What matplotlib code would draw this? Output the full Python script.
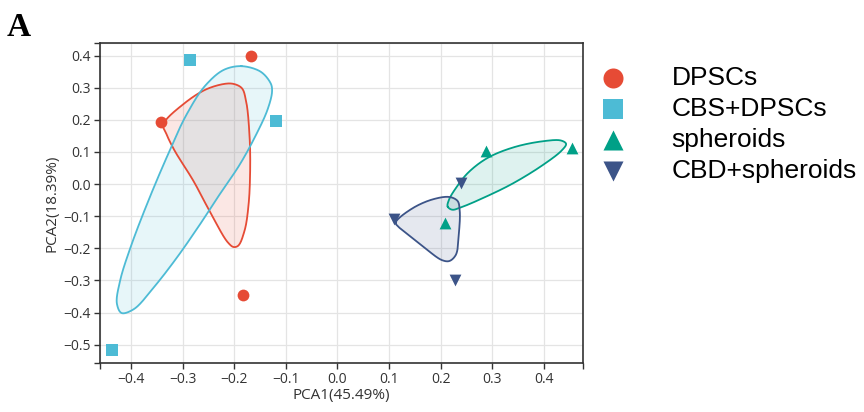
import numpy as np
import matplotlib.pyplot as plt

groups = ['DPSCs', 'CBS+DPSCs', 'spheroids', 'CBD+spheroids']
colors = ['#E64B35', '#4DBBD5', '#00A087', '#3C5488']
markers = ['o', 's', '^', 'v']

# sample scores
pc1 = [[-0.342, -0.168, -0.183],
       [-0.285, -0.118, -0.437],
       [0.288, 0.454, 0.209],
       [0.110, 0.239, 0.228]]
pc2 = [[0.194, 0.400, -0.345],
       [0.386, 0.197, -0.518],
       [0.103, 0.112, -0.122],
       [-0.110, 0.004, -0.300]]

# outline points
red_x = [-0.337, -0.299, -0.254, -0.218, -0.202, -0.186, -0.177, -0.170, -0.169, -0.172,
         -0.180, -0.193, -0.201, -0.212, -0.241, -0.279, -0.315, -0.331]
red_y = [0.186, 0.248, 0.295, 0.312, 0.312, 0.300, 0.259, 0.144, 0.041, -0.063,
         -0.146, -0.193, -0.196, -0.182, -0.104, 0.010, 0.103, 0.155]
blue_x = [-0.186, -0.151, -0.130, -0.1265, -0.135, -0.157, -0.189, -0.228, -0.266, -0.311,
          -0.356, -0.395, -0.417, -0.427, -0.421, -0.401, -0.369, -0.331, -0.292, -0.254, -0.218]
blue_y = [0.367, 0.352, 0.316, 0.290, 0.233, 0.155, 0.061, -0.032, -0.125, -0.229,
          -0.322, -0.390, -0.402, -0.374, -0.301, -0.198, -0.063, 0.082, 0.217, 0.310, 0.357]
green_x = [0.214, 0.216, 0.229, 0.255, 0.294, 0.345, 0.397, 0.432, 0.443, 0.435,
           0.397, 0.339, 0.287, 0.242, 0.223]
green_y = [-0.071, -0.050, -0.014, 0.038, 0.084, 0.116, 0.133, 0.136, 0.126, 0.105,
           0.058, 0.001, -0.040, -0.071, -0.080]
navy_x = [0.113, 0.145, 0.184, 0.216, 0.232, 0.237, 0.235, 0.229, 0.216, 0.203,
          0.171, 0.139, 0.119]
navy_y = [-0.120, -0.076, -0.048, -0.040, -0.051, -0.082, -0.160, -0.222, -0.240, -0.237,
          -0.201, -0.160, -0.134]

hulls = [(red_x, red_y), (blue_x, blue_y), (green_x, green_y), (navy_x, navy_y)]


def closed_curve(xs, ys, n=40):
    # centripetal Catmull-Rom spline, closed
    P = np.column_stack([xs, ys])
    m = len(P)
    pts = []
    for i in range(m):
        p0, p1, p2, p3 = P[i - 1], P[i], P[(i + 1) % m], P[(i + 2) % m]
        t0 = 0.0
        t1 = t0 + np.linalg.norm(p1 - p0) ** 0.5
        t2 = t1 + np.linalg.norm(p2 - p1) ** 0.5
        t3 = t2 + np.linalg.norm(p3 - p2) ** 0.5
        t = np.linspace(t1, t2, n, endpoint=False)[:, None]
        a1 = (t1 - t) / (t1 - t0) * p0 + (t - t0) / (t1 - t0) * p1
        a2 = (t2 - t) / (t2 - t1) * p1 + (t - t1) / (t2 - t1) * p2
        a3 = (t3 - t) / (t3 - t2) * p2 + (t - t2) / (t3 - t2) * p3
        b1 = (t2 - t) / (t2 - t0) * a1 + (t - t0) / (t2 - t0) * a2
        b2 = (t3 - t) / (t3 - t1) * a2 + (t - t1) / (t3 - t1) * a3
        pts.append((t2 - t) / (t2 - t1) * b1 + (t - t1) / (t2 - t1) * b2)
    c = np.vstack(pts)
    c = np.vstack([c, c[:1]])
    return c[:, 0], c[:, 1]


def fmt(v):
    return ('%.1f' % v).replace('-', '\u2212')


plt.rcParams['font.family'] = ['Open Sans', 'DejaVu Sans']

fig = plt.figure(figsize=(8.64, 4.12), dpi=100)
ax = fig.add_axes([0.1157, 0.1189, 0.5591, 0.7767])

xlim = (-0.46, 0.476)
ylim = (-0.557, 0.439)

for i in range(4):
    cx, cy = closed_curve(*hulls[i])
    ax.fill(cx, cy, color=colors[i], alpha=0.13, lw=0, zorder=2)
    ax.plot(cx, cy, color=colors[i], lw=1.3, zorder=3)

handles = []
for i in range(4):
    h = ax.scatter(pc1[i], pc2[i], s=72, marker=markers[i], color=colors[i],
                   linewidths=0, zorder=4, label=groups[i])
    handles.append(h)

xt = [xlim[0]] + list(np.round(np.arange(-0.4, 0.41, 0.1), 1)) + [xlim[1]]
yt = [ylim[0]] + list(np.round(np.arange(-0.5, 0.41, 0.1), 1)) + [ylim[1]]
ax.set_xticks(xt)
ax.set_xticklabels([''] + [fmt(v + 0.0) for v in xt[1:-1]] + [''])
ax.set_yticks(yt)
ax.set_yticklabels([''] + [fmt(v + 0.0) for v in yt[1:-1]] + [''])
ax.set_xlim(*xlim)
ax.set_ylim(*ylim)
ax.tick_params(direction='out', length=4.5, width=1, color='#333333',
               labelsize=10, labelcolor='#333333', pad=2)
ax.grid(True, color='#e4e4e4', lw=0.9, zorder=0)
ax.set_axisbelow(True)
for s in ax.spines.values():
    s.set_color('#333333')
    s.set_linewidth(1.2)

ax.set_xlabel('PCA1(45.49%)', fontsize=11, color='#333333', labelpad=1)
ax.set_ylabel('PCA2(18.39%)', fontsize=11, color='#333333', labelpad=3)

fig.text(0.008, 0.97, 'A', fontsize=24, fontweight='bold',
         family='Liberation Serif', va='top', ha='left')

leg = fig.legend(handles=handles, loc='upper left', bbox_to_anchor=(0.652, 0.898),
                 frameon=False, markerscale=1.7, handletextpad=1.2,
                 labelspacing=0.27, prop={'family': 'Liberation Sans', 'size': 19})

fig.savefig('out.png', dpi=100)
